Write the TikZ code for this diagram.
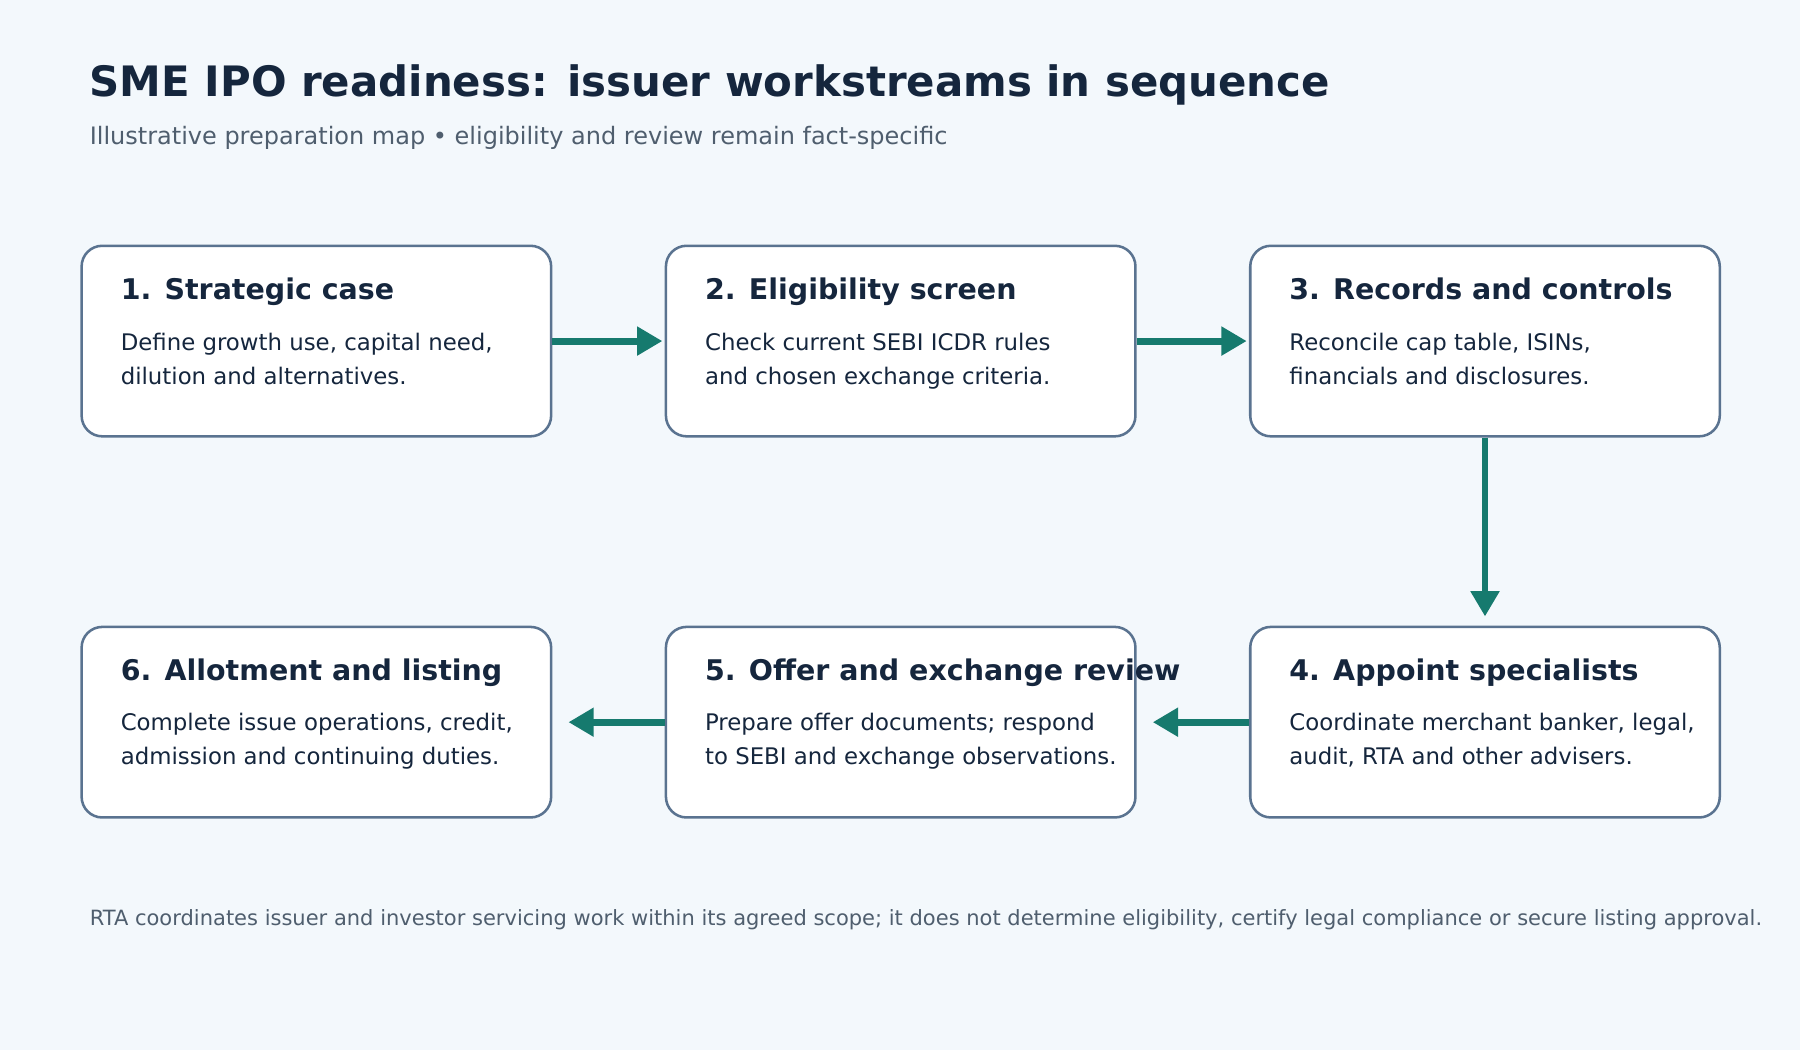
\documentclass[tikz,border=0pt]{standalone}
\usepackage{fontspec}
\setmainfont{DejaVu Sans}
\usetikzlibrary{arrows.meta}
\definecolor{bg}{HTML}{F3F8FC}
\definecolor{ink}{HTML}{15263D}
\definecolor{sub}{HTML}{4F5E6E}
\definecolor{edge}{HTML}{5A7390}
\definecolor{teal}{HTML}{167A6E}
\begin{document}
\begin{tikzpicture}[x=1pt,y=-1pt,inner sep=0pt,
  box/.style={draw=edge,line width=2.2pt,fill=white,rounded corners=18pt,minimum width=409pt,minimum height=166pt,anchor=north west},
  head/.style={anchor=base west,text=ink,font=\fontsize{24.8}{28}\selectfont\bfseries},
  body/.style={anchor=base west,text=ink,font=\fontsize{19.9}{30}\selectfont,align=left},
  arr/.style={draw=teal,line width=6pt,-{Triangle[length=22pt,width=24pt]}}]
\fill[bg] (0,0) rectangle (1568,915);
\useasboundingbox (0,0) rectangle (1568,915);
\node[anchor=base west,text=ink,font=\fontsize{36.5}{40}\selectfont\bfseries] (title) at (78,84) {SME IPO readiness: issuer workstreams in sequence};
\node[anchor=base west,text=sub,font=\fontsize{20.9}{24}\selectfont] (subt) at (78,126) {Illustrative preparation map • eligibility and review remain fact-specific};
\node[box] (b1) at (70,213) {};
\node[box] (b2) at (579,213) {};
\node[box] (b3) at (1088,213) {};
\node[box] (b6) at (70,545) {};
\node[box] (b5) at (579,545) {};
\node[box] (b4) at (1088,545) {};
\node[head] (h1) at (105,261) {1. Strategic case};
\node[body] (t1) at (105,335) {Define growth use, capital need,\\dilution and alternatives.};
\node[head] (h2) at (614,261) {2. Eligibility screen};
\node[body] (t2) at (614,335) {Check current SEBI ICDR rules\\and chosen exchange criteria.};
\node[head] (h3) at (1123,261) {3. Records and controls};
\node[body] (t3) at (1123,335) {Reconcile cap table, ISINs,\\financials and disclosures.};
\node[head] (h6) at (105,593) {6. Allotment and listing};
\node[body] (t6) at (105,666) {Complete issue operations, credit,\\admission and continuing duties.};
\node[head] (h5) at (614,593) {5. Offer and exchange review};
\node[body] (t5) at (614,666) {Prepare offer documents; respond\\to SEBI and exchange observations.};
\node[head] (h4) at (1123,593) {4. Appoint specialists};
\node[body] (t4) at (1123,666) {Coordinate merchant banker, legal,\\audit, RTA and other advisers.};
\draw[arr,shorten >=2pt] (b1.east) -- (b2.west);
\draw[arr,shorten >=2pt] (b2.east) -- (b3.west);
\draw[arr,shorten >=8pt] (b3.south) -- (b4.north);
\draw[arr,shorten >=14pt] (b4.west) -- (b5.east);
\draw[arr,shorten >=14pt] (b5.west) -- (b6.east);
\node[anchor=base west,text=sub,font=\fontsize{18.3}{20}\selectfont] (foot) at (78,806) {RTA coordinates issuer and investor servicing work within its agreed scope; it does not determine eligibility, certify legal compliance or secure listing approval.};
\end{tikzpicture}
\end{document}
